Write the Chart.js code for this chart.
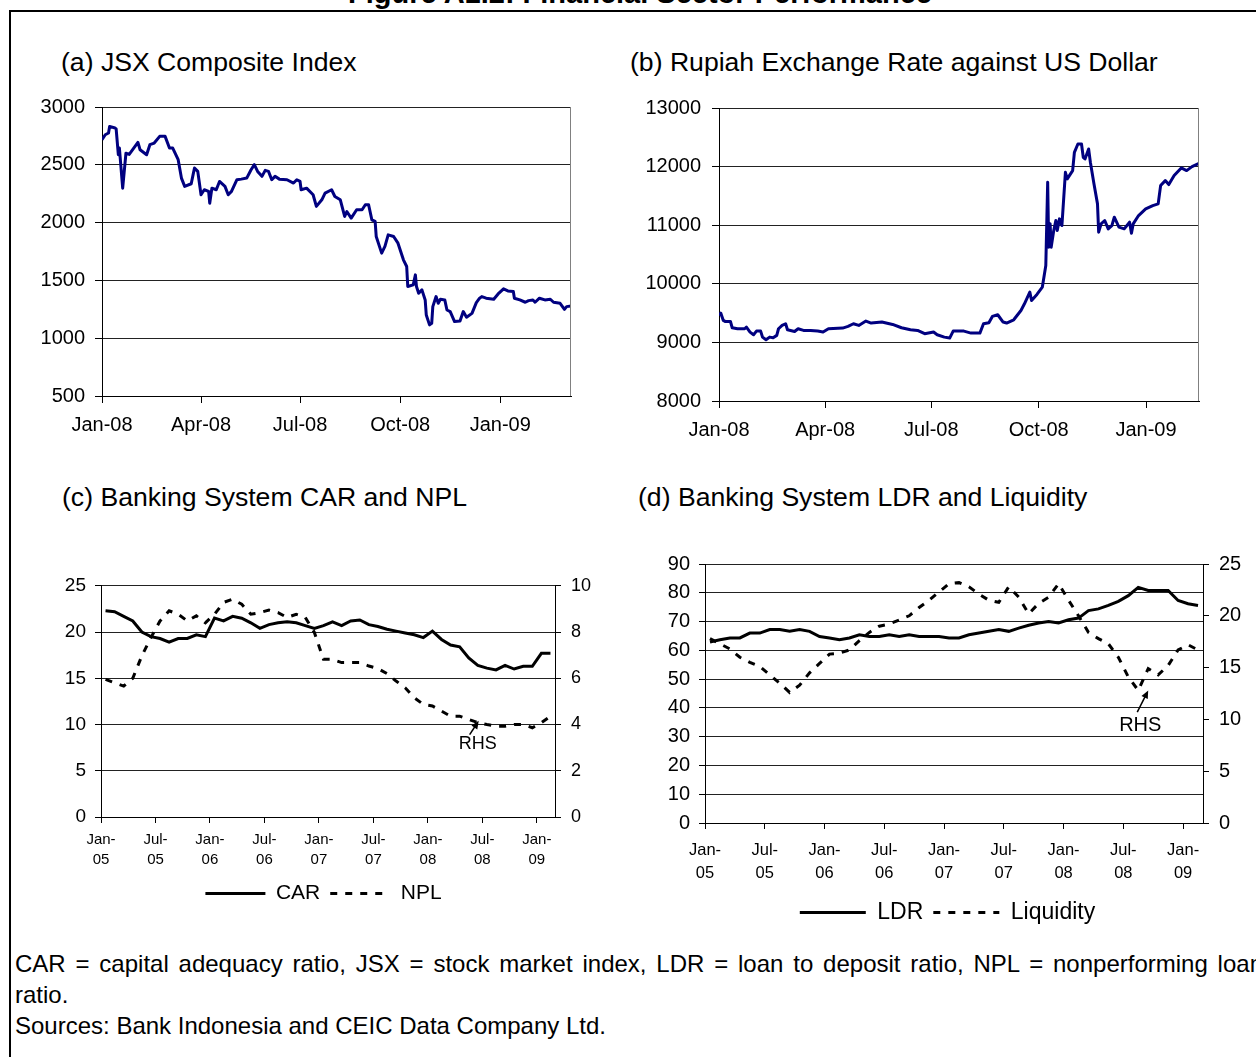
<!DOCTYPE html>
<html lang="en">
  <head>
    <meta charset="UTF-8">
    <title>Figure A1.2: Financial Sector Performance</title>
    <script src="https://cdn.jsdelivr.net/npm/chart.js"></script>
    <style>
      body {
        margin: 0;
        width: 1256px;
        height: 1057px;
        overflow: hidden;
        position: relative;
        background: #fff;
        font-family: "Liberation Sans", Arial, sans-serif;
        color: #000;
      }

      .frame {
        position: absolute;
        left: 9px;
        top: 10px;
        width: 1300px;
        height: 1100px;
        border: 2px solid #000;
      }

      .fig-title {
        position: absolute;
        left: 0;
        top: -21px;
        width: 1280px;
        text-align: center;
        font-weight: bold;
        font-size: 29px;
        line-height: 29px;
        white-space: nowrap;
      }

      .panel-title {
        position: absolute;
        font-size: 26.6px;
        line-height: 26px;
        white-space: nowrap;
      }

      canvas {
        position: absolute;
      }

      .note {
        position: absolute;
        left: 15px;
        font-size: 24px;
        line-height: 31px;
        margin: 0;
        white-space: nowrap;
      }

      /* first footnote line is spread to the full frame width */
      .spread {
        width: 1248px;
        white-space: normal;
        text-align: justify;
        text-align-last: justify;
      }
    </style>
  </head>
  <body>
    <div class="fig-title">Figure A1.2: Financial Sector Performance</div>
    <div class="frame"></div>

    <div class="panel-title" style="left:61px; top:49px;">(a) JSX Composite Index</div>
    <div class="panel-title" style="left:630px; top:49px;">(b) Rupiah Exchange Rate against US Dollar</div>
    <div class="panel-title" style="left:62px; top:484px;">(c) Banking System CAR and NPL</div>
    <div class="panel-title" style="left:638px; top:484px;">(d) Banking System LDR and Liquidity</div>

    <canvas id="jsxChart" width="563" height="361" style="left:20px; top:85px;"></canvas>
    <canvas id="rupiahChart" width="574" height="366" style="left:637px; top:85px;"></canvas>
    <canvas id="carChart" width="565" height="349" style="left:41px; top:565px;"></canvas>
    <canvas id="ldrChart" width="605" height="392" style="left:645px; top:542px;"></canvas>

    <p class="note spread" style="top:948px;">CAR = capital adequacy ratio, JSX = stock market index, LDR = loan to deposit ratio, NPL = nonperforming loan</p>
    <p class="note" style="top:979px;">ratio.</p>
    <p class="note" style="top:1010px;">Sources: Bank Indonesia and CEIC Data Company Ltd.</p>

    <script>
      // ---- (a) JSX composite index, days since 1 Jan 2008 ----
      const jsxDays = [0, 3, 6, 7, 12, 13, 15, 16, 19, 22, 25, 33, 35, 41, 44, 48, 53, 58, 62, 65,
        70, 73, 76, 82, 84, 85, 88, 91, 94, 98, 99, 101, 105, 108, 113, 116, 119, 124, 128, 133,
        137, 140, 143, 147, 150, 153, 156, 159, 163, 170, 176, 179, 182, 183, 188, 194, 197, 202, 205, 211,
        214, 219, 223, 225, 229, 234, 239, 242, 245, 248, 251, 252, 257, 260, 263, 268, 272, 277, 280, 281,
        286, 288, 289, 291, 294, 297, 298, 301, 303, 304, 307, 309, 311, 315, 317, 320, 324, 329, 332, 335,
        340, 344, 347, 349, 353, 360, 364, 369, 373, 378, 379, 384, 389, 392, 396, 398, 402, 407, 412, 415,
        421, 425, 427, 431];
      const jsxValues = [2717, 2760, 2775, 2832, 2818, 2810, 2587, 2645, 2298, 2600, 2590, 2694, 2630, 2587, 2674, 2688, 2746, 2746, 2645, 2645,
        2544, 2385, 2313, 2336, 2428, 2472, 2443, 2241, 2284, 2270, 2168, 2298, 2284, 2356, 2313, 2241, 2270, 2371, 2376, 2385,
        2457, 2501, 2443, 2400, 2452, 2443, 2371, 2400, 2376, 2371, 2342, 2371, 2356, 2284, 2298, 2241, 2140, 2197, 2255, 2284,
        2226, 2197, 2053, 2096, 2039, 2111, 2111, 2154, 2154, 2024, 2010, 1880, 1736, 1794, 1894, 1880, 1822, 1678, 1620, 1447,
        1461, 1548, 1447, 1389, 1418, 1331, 1201, 1115, 1129, 1273, 1360, 1302, 1337, 1331, 1244, 1230, 1144, 1149, 1230, 1181,
        1215, 1308, 1346, 1360, 1346, 1337, 1383, 1427, 1409, 1404, 1346, 1331, 1311, 1325, 1331, 1311, 1346, 1331, 1337, 1311,
        1302, 1250, 1273, 1279];

      // ---- (b) Rupiah per US dollar, days since 1 Jan 2008 ----
      const rpDays = [0, 1.5, 3.7, 5.2, 9.8, 11.3, 15.9, 22, 23.5, 26.6, 29.6, 32.1, 35.7, 37.3, 40.3, 43.4, 46.4, 49.5, 51, 54.1,
        57.1, 58.7, 64.8, 67.8, 72.4, 78.5, 84.6, 89.2, 93.8, 106, 110.6, 115.2, 119.8, 125.9, 130.4, 139.6, 148.8, 156.4, 164.1, 170.2,
        176.3, 183.9, 187, 193.1, 197.7, 200.7, 209.9, 216, 223.6, 226.7, 231.3, 234.3, 238.9, 243.5, 246.5, 252.6, 258.8, 261.8, 266.4, 267.9,
        272.5, 277.1, 280.1, 281.7, 282.6, 283.8, 284.7, 286.9, 288.7, 289.9, 291.8, 293.9, 296.9, 298.5, 303.1, 304.6, 307.6, 310.7, 312.2, 313.7,
        316.8, 318.3, 321.4, 324.4, 325.4, 327.5, 330.6, 333.6, 336.7, 338.8, 342.8, 347.3, 351.9, 353.5, 355, 359.6, 365.7, 371.8, 376.4, 378.5,
        382.5, 385.5, 390.1, 396.2, 400.8, 405.4, 411.4];
      const rpValues = [9460, 9500, 9375, 9358, 9358, 9250, 9233, 9233, 9261, 9176, 9131, 9193, 9193, 9090, 9045, 9090, 9080, 9120, 9233, 9290,
        9318, 9216, 9187, 9233, 9205, 9205, 9193, 9176, 9233, 9244, 9273, 9318, 9290, 9364, 9330, 9347, 9307, 9250, 9216, 9205,
        9148, 9176, 9131, 9090, 9074, 9193, 9193, 9159, 9159, 9318, 9336, 9443, 9472, 9347, 9330, 9386, 9545, 9659, 9858, 9716,
        9818, 9943, 10313, 11733, 10625, 11023, 10625, 10909, 11080, 10909, 11108, 10994, 11903, 11790, 11932, 12244, 12386, 12386, 12159, 12131,
        12301, 12074, 11705, 11364, 10881, 11023, 11080, 10938, 10994, 11136, 10966, 10938, 11051, 10864, 11023, 11165, 11278, 11335, 11364, 11676,
        11761, 11693, 11847, 11977, 11932, 12000, 12057];

      // ---- (c) and (d): monthly, Jan-05 .. Feb-09 ----
      const carValues = [22.3, 22.2, 21.7, 21.2, 20.0, 19.5, 19.3, 18.9, 19.3, 19.3, 19.7, 19.5,
        21.5, 21.2, 21.7, 21.5, 21.0, 20.4, 20.8, 21.0, 21.1, 21.0, 20.7, 20.4,
        20.7, 21.1, 20.7, 21.2, 21.3, 20.8, 20.6, 20.3, 20.1, 19.9, 19.7, 19.4,
        20.1, 19.2, 18.6, 18.4, 17.2, 16.4, 16.1, 15.9, 16.4, 16.0, 16.3, 16.3,
        17.7, 17.7];
      const nplValues = [5.95, 5.8, 5.66, 6.0, 6.97, 7.76, 8.48, 8.92, 8.77, 8.48, 8.7, 8.4,
        8.77, 9.28, 9.42, 9.2, 8.77, 8.84, 8.95, 8.84, 8.63, 8.77, 8.63, 7.98,
        6.82, 6.82, 6.68, 6.68, 6.68, 6.53, 6.42, 6.2, 5.88, 5.59, 5.16, 4.87,
        4.8, 4.58, 4.36, 4.36, 4.22, 4.08, 4.0, 3.93, 3.93, 4.0, 4.0, 3.86,
        4.08, 4.36];
      const ldrValues = [62.9, 63.7, 64.3, 64.3, 66.0, 66.0, 67.2, 67.2, 66.6, 67.2, 66.6, 64.8,
        64.3, 63.7, 64.3, 65.4, 64.8, 64.8, 65.4, 64.8, 65.4, 64.8, 64.8, 64.8,
        64.3, 64.3, 65.4, 66.0, 66.6, 67.2, 66.6, 67.7, 68.7, 69.5, 70.0, 69.5,
        70.6, 71.2, 73.8, 74.4, 75.6, 77.0, 79.0, 81.9, 80.8, 80.8, 80.8, 77.3,
        76.2, 75.6];
      const liquidityValues = [17.8, 17.3, 16.8, 16.0, 15.5, 15.1, 14.3, 13.5, 12.6, 13.3, 14.5, 15.4,
        16.3, 16.4, 16.7, 17.6, 18.4, 19.0, 19.2, 19.6, 20.0, 20.8, 21.5, 22.3,
        23.1, 23.2, 22.8, 22.1, 21.5, 21.3, 22.8, 21.8, 20.2, 21.2, 21.8, 23.1,
        21.5, 20.0, 18.4, 17.8, 17.3, 16.0, 14.1, 12.8, 14.9, 14.3, 15.2, 16.7,
        17.2, 16.7];

      // tick labels
      const quarterDays = [0, 91, 182, 274, 366];
      const quarterLabels = ['Jan-08', 'Apr-08', 'Jul-08', 'Oct-08', 'Jan-09'];
      const halfYearMonths = [0, 6, 12, 18, 24, 30, 36, 42, 48];
      const halfYearLabels = [['Jan-', '05'], ['Jul-', '05'], ['Jan-', '06'], ['Jul-', '06'], ['Jan-', '07'],
        ['Jul-', '07'], ['Jan-', '08'], ['Jul-', '08'], ['Jan-', '09']];

      Chart.defaults.font.family = '"Liberation Sans", Arial, sans-serif';
      Chart.defaults.color = '#000';
      Chart.defaults.animation = false;

      // grey edge on the right of the plot area, like the Excel plot frame
      const plotFrame = {
        id: 'plotFrame',
        afterDraw(chart, args, opts) {
          if (!opts.color) return;
          const { top, right, bottom } = chart.chartArea;
          const ctx = chart.ctx;
          ctx.save();
          ctx.strokeStyle = opts.color;
          ctx.lineWidth = 1;
          ctx.beginPath();
          ctx.moveTo(Math.round(right) - 0.5, top);
          ctx.lineTo(Math.round(right) - 0.5, bottom);
          ctx.stroke();
          ctx.restore();
        }
      };

      // "RHS" note with an arrow, placed in data units of x / y1
      const rhsNote = {
        id: 'rhsNote',
        afterDatasetsDraw(chart, args, opts) {
          if (!opts.text) return;
          const xs = chart.scales.x;
          const ys = chart.scales.y1;
          const ctx = chart.ctx;
          const x1 = xs.getPixelForValue(opts.from[0]), y1 = ys.getPixelForValue(opts.from[1]);
          const x2 = xs.getPixelForValue(opts.to[0]), y2 = ys.getPixelForValue(opts.to[1]);
          const ang = Math.atan2(y2 - y1, x2 - x1);
          ctx.save();
          ctx.strokeStyle = '#000';
          ctx.fillStyle = '#000';
          ctx.lineWidth = 1.5;
          ctx.beginPath();
          ctx.moveTo(x1, y1);
          ctx.lineTo(x2 - 5 * Math.cos(ang), y2 - 5 * Math.sin(ang));
          ctx.stroke();
          ctx.beginPath();
          ctx.moveTo(x2, y2);
          ctx.lineTo(x2 - 8 * Math.cos(ang) + 3.5 * Math.sin(ang), y2 - 8 * Math.sin(ang) - 3.5 * Math.cos(ang));
          ctx.lineTo(x2 - 8 * Math.cos(ang) - 3.5 * Math.sin(ang), y2 - 8 * Math.sin(ang) + 3.5 * Math.cos(ang));
          ctx.closePath();
          ctx.fill();
          ctx.font = opts.size + 'px "Liberation Sans", Arial, sans-serif';
          ctx.textAlign = 'center';
          ctx.textBaseline = 'middle';
          ctx.fillText(opts.text, xs.getPixelForValue(opts.at[0]), ys.getPixelForValue(opts.at[1]));
          ctx.restore();
        }
      };

      function toPoints(xs, ys) {
        return xs.map((x, i) => ({ x: x, y: ys[i] }));
      }

      // monthly series sit in the middle of each month slot
      function monthly(values) {
        return values.map((v, i) => ({ x: i + 0.5, y: v }));
      }

      // legend entries drawn as short lines, keeping the dataset dash pattern
      function lineLegendLabels(chart) {
        const items = Chart.defaults.plugins.legend.labels.generateLabels(chart);
        return items.map(item => {
          const ds = chart.data.datasets[item.datasetIndex];
          item.pointStyle = 'line';
          item.lineDash = ds.borderDash || [];
          item.lineWidth = ds.borderWidth;
          item.strokeStyle = ds.borderColor;
          item.fillStyle = 'transparent';
          return item;
        });
      }

      function dailyChart(id, days, values, yMin, yMax, yStep, xMax, yWidth, labelPad) {
        return new Chart(document.getElementById(id), {
          type: 'line',
          data: {
            datasets: [{
              data: toPoints(days, values),
              borderColor: '#000080',
              backgroundColor: 'transparent',
              borderWidth: 3,
              borderJoinStyle: 'round',
              pointRadius: 0,
              tension: 0
            }]
          },
          options: {
            responsive: false,
            layout: { padding: { top: 15, right: 12 } },
            plugins: {
              legend: { display: false },
              tooltip: { enabled: false },
              plotFrame: { color: '#808080' }
            },
            scales: {
              x: {
                type: 'linear',
                min: 0,
                max: xMax,
                afterBuildTicks: s => { s.ticks = quarterDays.map(v => ({ value: v })); },
                afterFit: s => { s.height = 50; },
                ticks: {
                  callback: v => quarterLabels[quarterDays.indexOf(v)],
                  font: { size: 20 },
                  padding: 10,
                  maxRotation: 0,
                  autoSkip: false
                },
                grid: { drawOnChartArea: false, tickLength: 7, tickColor: '#000' },
                border: { color: '#000' }
              },
              y: {
                min: yMin,
                max: yMax,
                afterFit: s => { s.width = yWidth; },
                ticks: { stepSize: yStep, font: { size: 20 }, padding: labelPad, callback: v => String(v) },
                grid: { color: '#222', tickLength: 7, tickColor: '#000' },
                border: { color: '#000' }
              }
            }
          },
          plugins: [plotFrame]
        });
      }

      function monthlyChart(id, cfg) {
        return new Chart(document.getElementById(id), {
          type: 'line',
          data: {
            datasets: [{
              label: cfg.names[0],
              data: monthly(cfg.solid),
              yAxisID: 'y',
              borderColor: '#000',
              backgroundColor: 'transparent',
              borderWidth: 3,
              pointRadius: 0,
              tension: 0
            }, {
              label: cfg.names[1],
              data: monthly(cfg.dashed),
              yAxisID: 'y1',
              borderColor: '#000',
              backgroundColor: 'transparent',
              borderWidth: 3,
              borderDash: [7, 8],
              pointRadius: 0,
              tension: 0
            }]
          },
          options: {
            responsive: false,
            layout: { padding: { top: 15, right: 0 } },
            plugins: {
              tooltip: { enabled: false },
              legend: {
                position: 'bottom',
                labels: {
                  usePointStyle: true,
                  pointStyle: 'line',
                  pointStyleWidth: cfg.legendLine,
                  generateLabels: lineLegendLabels,
                  font: { size: cfg.legendSize },
                  padding: 10
                }
              },
              rhsNote: cfg.note
            },
            scales: {
              x: {
                type: 'linear',
                min: 0,
                max: 50,
                afterBuildTicks: s => { s.ticks = halfYearMonths.map(v => ({ value: v })); },
                afterFit: s => { s.height = cfg.xHeight; },
                ticks: {
                  callback: v => halfYearLabels[halfYearMonths.indexOf(v)],
                  font: { size: cfg.xSize, lineHeight: cfg.xLine },
                  padding: cfg.xPad,
                  maxRotation: 0,
                  autoSkip: false
                },
                grid: { drawOnChartArea: false, tickLength: 6, tickColor: '#000' },
                border: { color: '#000' }
              },
              y: {
                position: 'left',
                min: 0,
                max: cfg.yMax,
                afterFit: s => { s.width = 60; },
                ticks: { stepSize: cfg.yStep, font: { size: cfg.ySize }, padding: 9 },
                grid: { color: '#222', tickLength: 6, tickColor: '#000' },
                border: { color: '#000' }
              },
              y1: {
                position: 'right',
                min: 0,
                max: cfg.y1Max,
                afterFit: s => { s.width = cfg.y1Width; },
                ticks: { stepSize: cfg.y1Step, font: { size: cfg.y1Size }, padding: 10 },
                grid: { drawOnChartArea: false, tickLength: 6, tickColor: '#000' },
                border: { color: '#000' }
              }
            }
          },
          plugins: [rhsNote]
        });
      }

      dailyChart('jsxChart', jsxDays, jsxValues, 500, 3000, 500, 431, 82, 10);
      dailyChart('rupiahChart', rpDays, rpValues, 8000, 13000, 1000, 411.4, 82, 11);

      monthlyChart('carChart', {
        solid: carValues,
        dashed: nplValues,
        names: ['CAR', 'NPL'],
        yMax: 25, yStep: 5, ySize: 19,
        y1Max: 10, y1Step: 2, y1Size: 18, y1Width: 51,
        xSize: 15, xLine: 1.33, xPad: 7, xHeight: 56,
        legendSize: 21, legendLine: 60,
        note: { text: 'RHS', size: 18, at: [41.5, 3.17], from: [40.6, 3.56], to: [41.6, 4.16] }
      });

      monthlyChart('ldrChart', {
        solid: ldrValues,
        dashed: liquidityValues,
        names: ['LDR', 'Liquidity'],
        yMax: 90, yStep: 10, ySize: 20,
        y1Max: 25, y1Step: 5, y1Size: 20, y1Width: 47,
        xSize: 16.5, xLine: 1.45, xPad: 9, xHeight: 68,
        legendSize: 23, legendLine: 66,
        note: { text: 'RHS', size: 20, at: [43.7, 9.4], from: [43.4, 10.7], to: [44.5, 12.8] }
      });
    </script>
  </body>
</html>
